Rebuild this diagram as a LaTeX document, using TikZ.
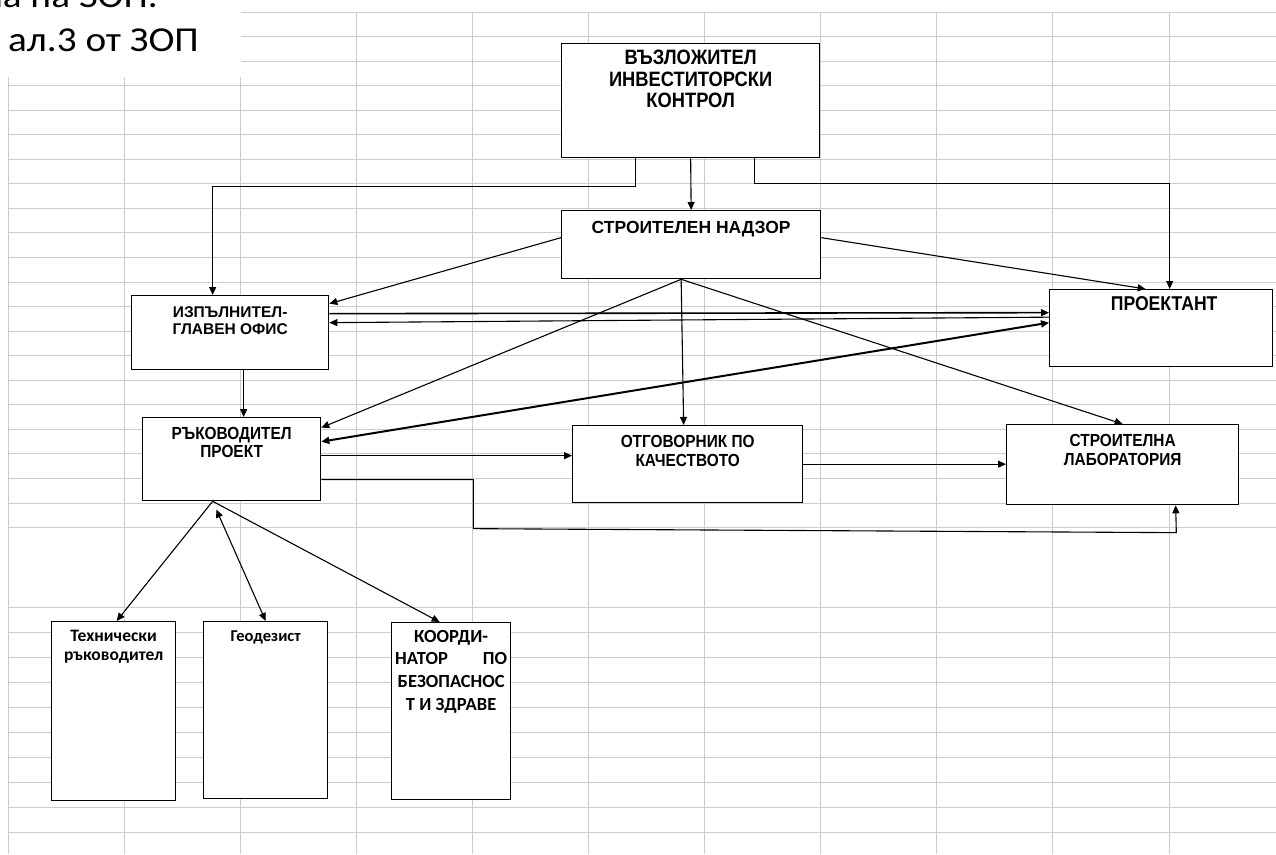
\documentclass[tikz,border=0pt]{standalone}
\usepackage{fontspec}
\setmainfont{Liberation Sans}
\newfontfamily\arn{Liberation Sans}[FakeStretch=0.88]
\newfontfamily\clb{Carlito}
\newfontfamily\clbw{Carlito}[FakeStretch=1.12]
\usetikzlibrary{arrows.meta,positioning}
\begin{document}
\begin{tikzpicture}[x=1pt,y=-1pt,
  box/.style={draw=black,line width=1.3pt,fill=white,inner sep=0pt,anchor=north west},
  lbl/.style={inner sep=0pt,align=center,anchor=north},
  arr/.style={-{Triangle[length=8pt,width=7pt]},line width=1.1pt},
  darr/.style={{Triangle[length=8pt,width=7pt]}-{Triangle[length=8pt,width=7pt]},line width=1.1pt},
  xlgrid/.style={gray!40,line width=1pt}]
	\useasboundingbox (0,0) rectangle (1276,854);
	\clip (0,0) rectangle (1276,854);
	\fill [white] (0,0) rectangle (1276,854);
	\foreach \gx in {0,...,10}
		\draw [xlgrid] (8+116.1*\gx,12) -- (8+116.1*\gx,854);
	\foreach \gy in {0,...,21}
		\draw [xlgrid] (8,12+24.55*\gy) -- (1276,12+24.55*\gy);
	\foreach \gy in {0,...,9}
		\draw [xlgrid] (8,607+25.1*\gy) -- (1276,607+25.1*\gy);
	\fill [white] (0,0) rectangle (241,77);
	\node [anchor=base east,inner sep=0pt,font=\clbw\fontsize{35}{43}\selectfont] (zopA) at (158,7) {ла на ЗОП.};
	\node [anchor=base west,inner sep=0pt,font=\clbw\fontsize{35}{43}\selectfont] (zopB) at (8,51) {ал.3 от ЗОП};
	\node [box,minimum width=258pt,minimum height=114pt] (vzl) at (561,43) {};
	\node [box,minimum width=259pt,minimum height=68pt] (ndz) at (561,210) {};
	\node [box,minimum width=197pt,minimum height=74pt] (izp) at (131,295) {};
	\node [box,minimum width=223pt,minimum height=77pt] (prj) at (1049,289) {};
	\node [box,minimum width=178pt,minimum height=83pt] (rkv) at (142,417) {};
	\node [box,minimum width=230pt,minimum height=77pt] (otg) at (572,425) {};
	\node [box,minimum width=232pt,minimum height=80pt] (lab) at (1006,424) {};
	\node [box,minimum width=124pt,minimum height=179pt] (thn) at (51,621) {};
	\node [box,minimum width=124pt,minimum height=177pt] (gdz) at (203,621) {};
	\node [box,minimum width=119pt,minimum height=177pt] (krd) at (391,622) {};
	\node [lbl,font=\arn\bfseries\fontsize{20.8}{21.5}\selectfont,below=7pt of vzl.north] (vzlT) {ВЪЗЛОЖИТЕЛ\\ИНВЕСТИТОРСКИ\\КОНТРОЛ};
	\node [lbl,font=\bfseries\fontsize{17.5}{20}\selectfont,below=11pt of ndz.north] (ndzT) {СТРОИТЕЛЕН НАДЗОР};
	\node [lbl,font=\bfseries\fontsize{15.5}{17.5}\selectfont,below=11pt of izp.north] (izpT) {ИЗПЪЛНИТЕЛ-\\ГЛАВЕН ОФИС};
	\node [lbl,font=\arn\bfseries\fontsize{20}{22}\selectfont,below=7pt of prj.north,xshift=3pt] (prjT) {ПРОЕКТАНТ};
	\node [lbl,font=\arn\bfseries\fontsize{17.5}{18.5}\selectfont,below=10pt of rkv.north] (rkvT) {РЪКОВОДИТЕЛ\\ПРОЕКТ};
	\node [lbl,font=\arn\bfseries\fontsize{17.5}{19}\selectfont,below=10pt of otg.north] (otgT) {ОТГОВОРНИК ПО\\КАЧЕСТВОТО};
	\node [lbl,font=\arn\bfseries\fontsize{17.5}{19}\selectfont,below=10pt of lab.north] (labT) {СТРОИТЕЛНА\\ЛАБОРАТОРИЯ};
	\node [lbl,font=\clb\bfseries\fontsize{17.5}{19}\selectfont,below=9pt of thn.north] (thnT) {Технически\\ръководител};
	\node [lbl,font=\clb\bfseries\fontsize{16.5}{19}\selectfont,below=10pt of gdz.north] (gdzT) {Геодезист};
	\node [lbl,font=\clb\bfseries\fontsize{18.5}{22.6}\selectfont,below=8pt of krd.north] (krdT) {КООРДИ-\\\makebox[112pt][s]{НАТОР ПО}\\БЕЗОПАСНОС\\Т И ЗДРАВЕ};
	\draw [arr] ([xshift=-55pt]vzl.south) -- ++(0,28) -| ([xshift=-17.5pt]izp.north);
	\draw [arr] (vzl.south) -- (ndz.north);
	\draw [arr] ([xshift=64pt]vzl.south) -- ++(0,25) -| ([xshift=8.5pt]prj.north);
	\draw [arr] ([yshift=7pt]ndz.west) -- ([yshift=29pt]izp.east);
	\draw [arr] ([yshift=7pt]ndz.east) -- ([xshift=-15.5pt]prj.north);
	\coordinate (apex) at ([xshift=-10pt]ndz.south);
	\draw [arr] (apex) -- ([yshift=31.5pt]rkv.east);
	\draw [arr] (apex) -- ([xshift=-4pt]otg.north);
	\draw [arr] (apex) -- (lab.north);
	\draw [arr,line width=1.6pt] ([yshift=19pt]izp.east) -- ([yshift=15.5pt]prj.west);
	\draw [arr] ([yshift=11pt]prj.west) -- ([yshift=10pt]izp.east);
	\draw [darr,line width=2pt] ([yshift=17.5pt]rkv.east) -- ([yshift=5.5pt]prj.west);
	\draw [arr] ([xshift=13.5pt]izp.south) -- ([xshift=13.5pt]izp.south |- rkv.north);
	\draw [arr] ([yshift=3.5pt]rkv.east) -- ([yshift=3.5pt]rkv.east -| otg.west);
	\draw [arr] (otg.east) -- (otg.east -| lab.west);
	\draw [arr] ([yshift=-20.5pt]rkv.east) -- ++(152,0) -- ++(0,49) -- ++(703,4) -- ([xshift=53pt]lab.south);
	\coordinate (foot) at ([xshift=-19pt]rkv.south);
	\draw [arr] (foot) -- ([xshift=3pt]thn.north);
	\draw [darr,shorten <=9pt] (foot) -- (gdz.north);
	\draw [arr] (foot) -- ([xshift=-11.5pt]krd.north);
\end{tikzpicture}
\end{document}
